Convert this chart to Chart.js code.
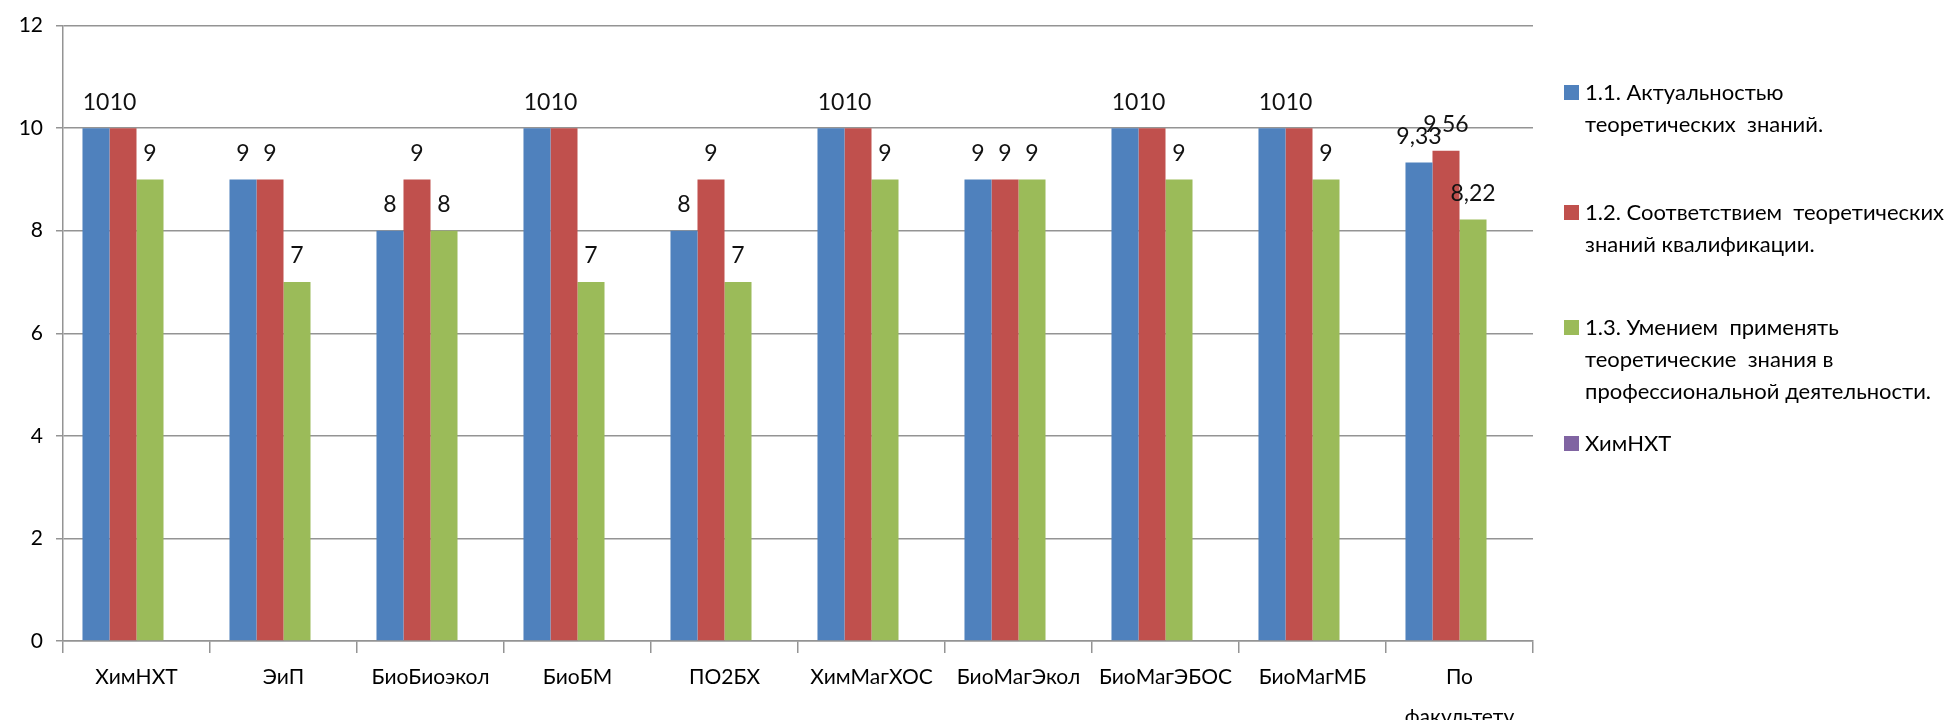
<!DOCTYPE html>
<html>
<head>
<meta charset="utf-8">
<script src="https://cdn.jsdelivr.net/npm/chart.js@4"></script>
<style>
  html, body { margin: 0; padding: 0; background: #fff; }
  #wrap { position: relative; width: 1953px; height: 720px; overflow: hidden; }
  canvas { position: absolute; left: 0; top: 0; }
  .lg { position: absolute; left: 1564px; font-family: Lato, "Open Sans", sans-serif; font-size: 22px; line-height: 32px; color: #000; }
  .lg .sw { position: absolute; left: 0; top: 9px; width: 15px; height: 15px; }
  .lg .tx { position: absolute; left: 21px; top: 0; white-space: pre; }
</style>
</head>
<body>
<div id="wrap">
  <canvas id="c" width="1953" height="720"></canvas>
  <div id="legend"></div>
</div>
<script>
const categories = ['ХимНХТ', 'ЭиП', 'БиоБиоэкол', 'БиоБМ', 'ПО2БХ', 'ХимМагХОС', 'БиоМагЭкол', 'БиоМагЭБОС', 'БиоМагМБ', ['По', 'факультету']];
const seriesNames = [
  '1.1. Актуальностью\nтеоретических  знаний.',
  '1.2. Соответствием  теоретических\nзнаний квалификации.',
  '1.3. Умением  применять\nтеоретические  знания в\nпрофессиональной деятельности.',
  'ХимНХТ'
];
const seriesColors = ['#4F81BD', '#C0504D', '#9BBB59', '#8064A2'];
const actuality = [10, 9, 8, 10, 8, 10, 9, 10, 10, 9.33];
const conformity = [10, 9, 9, 10, 9, 10, 9, 10, 10, 9.56];
const application = [9, 7, 8, 7, 7, 9, 9, 9, 9, 8.22];
const himNHT = [null, null, null, null, null, null, null, null, null, null];
const yTicks = [0, 2, 4, 6, 8, 10, 12];

const seriesData = [actuality, conformity, application, himNHT];
const legendTops = [76, 196, 311, 427];

// HTML legend
const lg = document.getElementById('legend');
seriesNames.forEach((name, i) => {
  const d = document.createElement('div');
  d.className = 'lg';
  d.style.top = legendTops[i] + 'px';
  const sw = document.createElement('div');
  sw.className = 'sw';
  sw.style.background = seriesColors[i];
  const tx = document.createElement('div');
  tx.className = 'tx';
  tx.textContent = name;
  d.appendChild(sw); d.appendChild(tx);
  lg.appendChild(d);
});

const FONT = 'Lato';

const valueLabels = {
  id: 'valueLabels',
  afterDatasetsDraw(chart) {
    const ctx = chart.ctx;
    ctx.save();
    ctx.font = '23px ' + FONT;
    ctx.fillStyle = '#111';
    ctx.textAlign = 'center';
    ctx.textBaseline = 'middle';
    chart.data.datasets.forEach((ds, i) => {
      const meta = chart.getDatasetMeta(i);
      meta.data.forEach((bar, j) => {
        const v = ds.data[j];
        if (v === null || v === undefined) return;
        ctx.fillText(String(v).replace('.', ','), bar.x, bar.y - 26);
      });
    });
    ctx.restore();
  }
};

new Chart(document.getElementById('c'), {
  type: 'bar',
  data: {
    labels: categories,
    datasets: seriesData.map((d, i) => ({
      label: seriesNames[i],
      data: d,
      backgroundColor: seriesColors[i],
      borderWidth: 0,
      categoryPercentage: 0.735,
      barPercentage: 1.0
    }))
  },
  options: {
    responsive: false,
    animation: false,
    layout: { padding: { left: 0, right: 420, top: 21, bottom: 0 } },
    plugins: { legend: { display: false }, tooltip: { enabled: false } },
    scales: {
      x: {
        offset: true,
        grid: { offset: true, drawOnChartArea: false, drawTicks: true, tickLength: 12, color: '#949494', lineWidth: 1.5 },
        border: { color: '#949494', width: 1.5 },
        ticks: { font: { family: FONT, size: 21, lineHeight: 1.9 }, color: '#000', padding: 4, maxRotation: 0, autoSkip: false },
        afterFit(s) { s.height = 79; }
      },
      y: {
        min: 0, max: 12,
        afterBuildTicks(s) { s.ticks = yTicks.map(v => ({ value: v })); },
        grid: { color: '#949494', lineWidth: 1.5, tickLength: 7 },
        border: { color: '#949494', width: 1.5 },
        ticks: { font: { family: FONT, size: 21 }, color: '#000', padding: 13 },
        afterFit(s) { s.width = 63; }
      }
    }
  },
  plugins: [valueLabels]
});
</script>
</body>
</html>
